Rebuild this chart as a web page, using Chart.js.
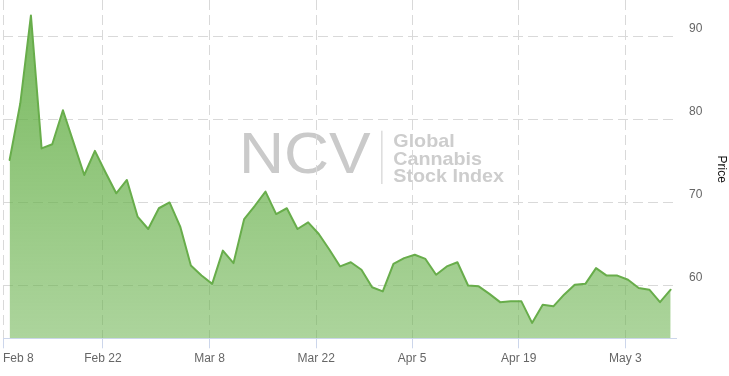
<!DOCTYPE html>
<html>
<head>
<meta charset="utf-8">
<title>NCV Global Cannabis Stock Index</title>
<script src="https://cdn.jsdelivr.net/npm/chart.js@4.4.1/dist/chart.umd.min.js"></script>
<style>
    html, body { margin: 0; padding: 0; background: #fff; }
    canvas { display: block; }
</style>
</head>
<body>
<canvas id="priceChart" width="729" height="376"></canvas>
<script>
// trading days, Feb 8 - May 7
const dates = [
    'Feb 8', 'Feb 9', 'Feb 10', 'Feb 11', 'Feb 12', 'Feb 16', 'Feb 17', 'Feb 18', 'Feb 19',
    'Feb 22', 'Feb 23', 'Feb 24', 'Feb 25', 'Feb 26',
    'Mar 1', 'Mar 2', 'Mar 3', 'Mar 4', 'Mar 5', 'Mar 8', 'Mar 9', 'Mar 10', 'Mar 11', 'Mar 12',
    'Mar 15', 'Mar 16', 'Mar 17', 'Mar 18', 'Mar 19', 'Mar 22', 'Mar 23', 'Mar 24', 'Mar 25', 'Mar 26',
    'Mar 29', 'Mar 30', 'Mar 31', 'Apr 1',
    'Apr 5', 'Apr 6', 'Apr 7', 'Apr 8', 'Apr 9', 'Apr 12', 'Apr 13', 'Apr 14', 'Apr 15', 'Apr 16',
    'Apr 19', 'Apr 20', 'Apr 21', 'Apr 22', 'Apr 23', 'Apr 26', 'Apr 27', 'Apr 28', 'Apr 29', 'Apr 30',
    'May 3', 'May 4', 'May 5', 'May 6', 'May 7'
];

const prices = [
    75.1, 81.9, 92.5, 76.5, 77.0, 81.1, 77.2, 73.3, 76.2,
    73.6, 71.1, 72.7, 68.3, 66.8,
    69.3, 70.0, 67.1, 62.4, 61.2, 60.2, 64.2, 62.7, 68.0, 69.6,
    71.3, 68.6, 69.3, 66.8, 67.6, 66.2, 64.3, 62.3, 62.8, 61.9,
    59.8, 59.3, 62.6, 63.3,
    63.7, 63.2, 61.3, 62.3, 62.8, 60.0, 59.9, 59.0, 58.0, 58.1,
    58.1, 55.5, 57.7, 57.5, 58.9, 60.1, 60.2, 62.1, 61.2, 61.2,
    60.7, 59.7, 59.5, 58.0, 59.5
];

const tickLabels = ['Feb 8', 'Feb 22', 'Mar 8', 'Mar 22', 'Apr 5', 'Apr 19', 'May 3'];
const priceTicks = [60, 70, 80, 90];

const xMin = -0.62;
const xMax = 62.5;
const gridColor = '#d9d9d9';
const labelFont = { family: '"Liberation Sans", Arial, sans-serif', size: 12 };

// ticks sit a little before the day's point, first one on the left edge
const tickPos = tickLabels.map(function(label, i) {
    return i === 0 ? xMin : dates.indexOf(label) - 0.25;
});

const points = prices.map(function(p, i) { return { x: i, y: p }; });

const logoPlugin = {
    id: 'logo',
    beforeDraw: function(chart) {
        const ctx = chart.ctx;
        ctx.save();
        ctx.textBaseline = 'alphabetic';
        ctx.textAlign = 'left';

        ctx.fillStyle = '#cacaca';
        ctx.font = '57px "Liberation Sans", Arial, sans-serif';
        let w = ctx.measureText('NCV').width;
        ctx.save();
        ctx.translate(239, 173.3);
        ctx.scale(131.7 / w, 1);
        ctx.fillText('NCV', 0, 0);
        ctx.restore();

        ctx.fillStyle = '#dedede';
        ctx.fillRect(381, 130.7, 1.6, 53.3);

        ctx.fillStyle = '#cdcdcd';
        ctx.font = 'bold 17.7px "Liberation Sans", Arial, sans-serif';
        w = ctx.measureText('Stock Index').width;
        const sx = 110.7 / w;
        [['Global', 146.7], ['Cannabis', 165], ['Stock Index', 182.3]].forEach(function(row) {
            ctx.save();
            ctx.translate(393.3, row[1]);
            ctx.scale(sx, 1);
            ctx.fillText(row[0], 0, 0);
            ctx.restore();
        });
        ctx.restore();
    }
};

const ctx = document.getElementById('priceChart').getContext('2d');

new Chart(ctx, {
    type: 'line',
    data: {
        datasets: [{
            label: 'Price',
            data: points,
            borderColor: '#68ad4b',
            borderWidth: 2,
            borderJoinStyle: 'round',
            borderCapStyle: 'round',
            tension: 0,
            pointRadius: 0,
            fill: 'start',
            backgroundColor: function(context) {
                const area = context.chart.chartArea;
                if (!area) {
                    return 'rgba(104, 177, 75, 0.7)';
                }
                const g = context.chart.ctx.createLinearGradient(0, area.top, 0, area.bottom);
                g.addColorStop(0, 'rgba(104, 177, 75, 0.9)');
                g.addColorStop(1, 'rgba(104, 177, 75, 0.55)');
                return g;
            }
        }]
    },
    options: {
        responsive: false,
        animation: false,
        layout: { padding: { left: 3, top: 0, right: 0, bottom: 0 } },
        plugins: {
            legend: { display: false },
            tooltip: { enabled: false }
        },
        scales: {
            x: {
                type: 'linear',
                min: xMin,
                max: xMax,
                bounds: 'data',
                afterBuildTicks: function(scale) {
                    scale.ticks = tickPos.map(function(v) { return { value: v }; }).concat([{ value: xMax }]);
                },
                afterFit: function(scale) {
                    scale.height = 37.7;
                    scale.paddingLeft = 0;
                    scale.paddingRight = 0;
                },
                ticks: {
                    autoSkip: false,
                    maxRotation: 0,
                    align: 'inner',
                    padding: 3,
                    color: '#666666',
                    font: labelFont,
                    callback: function(value, index) {
                        return tickLabels[index] || '';
                    }
                },
                grid: {
                    color: function(c) { return c.index < tickLabels.length ? gridColor : 'rgba(0,0,0,0)'; },
                    tickColor: function(c) { return c.index < tickLabels.length ? '#ccd6eb' : 'rgba(0,0,0,0)'; },
                    tickLength: 10,
                    tickBorderDash: [],
                    lineWidth: 1
                },
                border: { display: true, color: '#ccd6eb', width: 1, dash: [10, 5] }
            },
            y: {
                type: 'linear',
                position: 'right',
                min: 53.65,
                max: 94.36,
                afterBuildTicks: function(scale) {
                    scale.ticks = priceTicks.map(function(v) { return { value: v }; });
                },
                afterFit: function(scale) {
                    scale.width = 53;
                    scale.paddingTop = 0;
                    scale.paddingBottom = 0;
                },
                ticks: {
                    padding: 13,
                    labelOffset: -7.5,
                    color: '#666666',
                    font: labelFont
                },
                grid: { color: gridColor, drawTicks: false, lineWidth: 1 },
                border: { display: false, dash: [10, 5] },
                title: {
                    display: true,
                    text: 'Price',
                    color: '#111111',
                    font: labelFont,
                    padding: { top: 0, bottom: 0 }
                }
            }
        }
    },
    plugins: [logoPlugin]
});
</script>
</body>
</html>
